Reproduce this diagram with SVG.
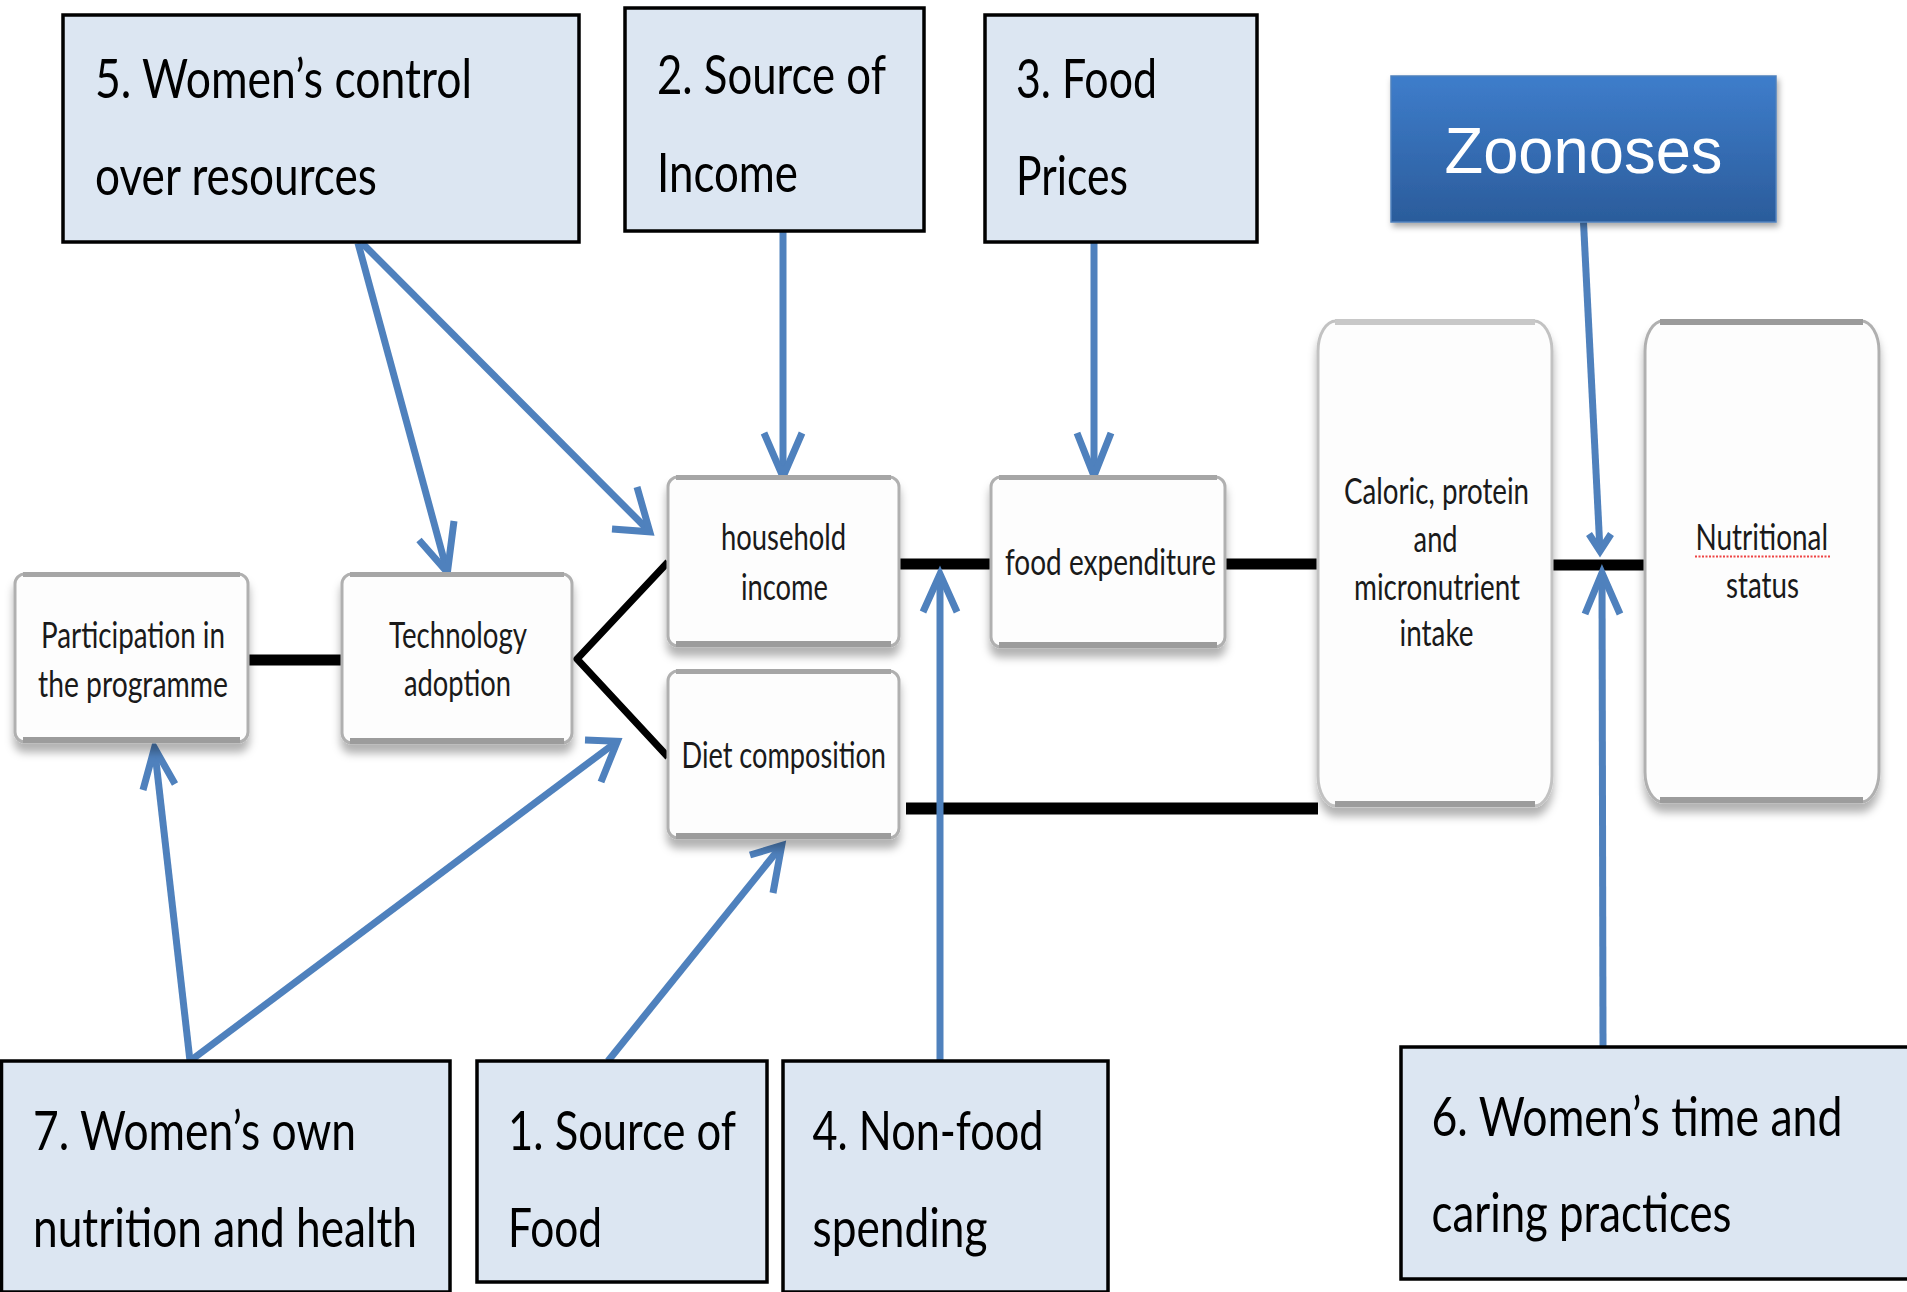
<svg xmlns="http://www.w3.org/2000/svg" width="1907" height="1292" viewBox="0 0 1907 1292">
<defs>
<style>
.lb{fill:#dce6f2;stroke:#000;stroke-width:3.5}
.big{font-family:Lato,"Open Sans","Liberation Sans",sans-serif;font-size:55px;fill:#000}
.sm{font-family:Lato,"Open Sans","Liberation Sans",sans-serif;font-size:37px;fill:#1a1a1a}
.nb{fill:#fdfdfd;stroke:#b0b0b0;stroke-width:3}
.tb{fill:#a6a6a6}
.bb{fill:#9c9c9c}
.blk{stroke:#000;fill:none}
.bl{stroke:#4f81bd;fill:none;stroke-width:7}
.ah{stroke:#4f81bd;fill:none;stroke-width:7;stroke-linejoin:miter;stroke-miterlimit:10}
</style>
<filter id="sh" x="-10%" y="-10%" width="120%" height="130%">
<feGaussianBlur in="SourceAlpha" stdDeviation="4"/>
<feOffset dy="9" result="b"/>
<feFlood flood-color="#000" flood-opacity="0.3"/>
<feComposite in2="b" operator="in"/>
<feMerge><feMergeNode/><feMergeNode in="SourceGraphic"/></feMerge>
</filter>
<filter id="zs" x="-10%" y="-10%" width="120%" height="130%">
<feGaussianBlur in="SourceAlpha" stdDeviation="3"/>
<feOffset dx="2" dy="4" result="b"/>
<feFlood flood-color="#000" flood-opacity="0.35"/>
<feComposite in2="b" operator="in"/>
<feMerge><feMergeNode/><feMergeNode in="SourceGraphic"/></feMerge>
</filter>
<linearGradient id="zg" x1="0" y1="0" x2="0" y2="1">
<stop offset="0" stop-color="#3e7dcb"/>
<stop offset="1" stop-color="#2b5c9b"/>
</linearGradient>
</defs>
<rect x="0" y="0" width="1907" height="1292" fill="#fff"/>

<g id="connectors">
<path class="blk" stroke-width="11" d="M248,660 H342"/>
<path class="blk" stroke-width="7" stroke-linejoin="miter" d="M668,562 L577,659 L668,757"/>
<path class="blk" stroke-width="11" d="M899,564 H991"/>
<path class="blk" stroke-width="11" d="M1225,564 H1318"/>
<path class="blk" stroke-width="11" d="M1552,565 H1645"/>
<path class="blk" stroke-width="12" d="M906,808.5 H1318"/>

<path class="bl" d="M358,243 L447.4,572.3"/>
<path class="ah" d="M419,540 L447.4,572.3 L454,521"/>
<path class="bl" d="M362,243 L649.8,531.8"/>
<path class="ah" d="M612,529 L649.8,531.8 L637,487"/>
<path class="bl" d="M783,231 V477"/>
<path class="ah" d="M764,433 L783,477 L802,433"/>
<path class="bl" d="M1094,243 V476"/>
<path class="ah" d="M1077,433 L1094,476 L1111,433"/>
<path class="bl" stroke-width="5" d="M1583.5,222 L1600,551"/>
<path class="ah" stroke-width="5" d="M1589,534 L1600,551 L1611,534"/>
<path class="bl" d="M1603,1047 L1602,573"/>
<path class="ah" d="M1585,614 L1602,573 L1620,614"/>
<path class="bl" d="M940,1061 V574"/>
<path class="ah" d="M923,612 L940,574 L957,612"/>
<path class="bl" d="M608,1061 L781.7,845.5"/>
<path class="ah" d="M750,855 L781.7,845.5 L773,893"/>
<path class="bl" d="M190,1061 L154.5,747.9"/>
<path class="ah" d="M143,790 L154.5,747.9 L175,784"/>
<path class="bl" d="M190,1061 L617.4,741.2"/>
<path class="ah" d="M585,740 L617.4,741.2 L601,782"/>
</g>

<g id="n-participation">
<rect class="nb" x="15" y="574" width="233" height="168" rx="10" filter="url(#sh)"/>
<rect class="tb" x="23" y="572" width="217" height="5"/>
<rect class="bb" x="23" y="737" width="217" height="6"/>
<text class="sm" x="41" y="648" textLength="184" lengthAdjust="spacingAndGlyphs">Participation in</text>
<text class="sm" x="38" y="697" textLength="190" lengthAdjust="spacingAndGlyphs">the programme</text>
</g>

<g id="n-technology">
<rect class="nb" x="342" y="574" width="230" height="169" rx="10" filter="url(#sh)"/>
<rect class="tb" x="350" y="572" width="214" height="5"/>
<rect class="bb" x="350" y="738" width="214" height="6"/>
<text class="sm" x="389" y="648" textLength="138" lengthAdjust="spacingAndGlyphs">Technology</text>
<text class="sm" x="404" y="696" textLength="107" lengthAdjust="spacingAndGlyphs">adoption</text>
</g>

<g id="n-household">
<rect class="nb" x="668" y="477" width="231" height="169" rx="10" filter="url(#sh)"/>
<rect class="tb" x="676" y="475" width="215" height="5"/>
<rect class="bb" x="676" y="641" width="215" height="6"/>
<text class="sm" x="721" y="550" textLength="125" lengthAdjust="spacingAndGlyphs">household</text>
<text class="sm" x="741" y="600" textLength="87" lengthAdjust="spacingAndGlyphs">income</text>
</g>

<g id="n-diet">
<rect class="nb" x="668" y="671" width="231" height="167" rx="10" filter="url(#sh)"/>
<rect class="tb" x="676" y="669" width="215" height="5"/>
<rect class="bb" x="676" y="833" width="215" height="6"/>
<text class="sm" x="681.5" y="768" textLength="204.5" lengthAdjust="spacingAndGlyphs">Diet composition</text>
</g>

<g id="n-foodexp">
<rect class="nb" x="991" y="477" width="234" height="170" rx="10" filter="url(#sh)"/>
<rect class="tb" x="999" y="475" width="218" height="5"/>
<rect class="bb" x="999" y="642" width="218" height="6"/>
<text class="sm" x="1005" y="575" textLength="211" lengthAdjust="spacingAndGlyphs">food expenditure</text>
</g>

<g id="n-caloric">
<rect class="nb" x="1318" y="321" width="234" height="485" rx="18" ry="30" filter="url(#sh)" style="stroke:#c2c2c2"/>
<rect x="1335" y="319" width="200" height="6" fill="#c8c8c8"/>
<rect class="bb" x="1335" y="801" width="200" height="6"/>
<text class="sm" x="1344" y="504" textLength="185" lengthAdjust="spacingAndGlyphs">Caloric, protein</text>
<text class="sm" x="1413.6" y="552" textLength="44" lengthAdjust="spacingAndGlyphs">and</text>
<text class="sm" x="1354" y="600" textLength="166" lengthAdjust="spacingAndGlyphs">micronutrient</text>
<text class="sm" x="1399.5" y="646" textLength="74" lengthAdjust="spacingAndGlyphs">intake</text>
</g>

<g id="n-nutritional">
<rect class="nb" x="1645" y="321" width="234" height="481" rx="18" ry="30" filter="url(#sh)"/>
<rect x="1660" y="319" width="203" height="6" fill="#9b9b9b"/>
<rect class="bb" x="1660" y="797" width="203" height="6"/>
<text class="sm" x="1695.5" y="550" textLength="132.5" lengthAdjust="spacingAndGlyphs">Nutritional</text>
<path d="M1695,556.5 H1830" stroke="#ee4444" stroke-width="2" stroke-dasharray="2 1.5" fill="none"/>
<text class="sm" x="1726" y="598" textLength="73" lengthAdjust="spacingAndGlyphs">status</text>
</g>

<g id="n-zoonoses">
<rect x="1391" y="76" width="385" height="146" fill="url(#zg)" stroke="#4f81bd" stroke-width="1.5" filter="url(#zs)"/>
<text x="1444.5" y="173" font-family="'Liberation Sans',Arial,sans-serif" font-size="64" fill="#fff" textLength="278" lengthAdjust="spacingAndGlyphs">Zoonoses</text>
</g>

<g id="n-5">
<rect class="lb" x="63" y="15" width="516" height="227"/>
<text class="big" x="95" y="98" textLength="377" lengthAdjust="spacingAndGlyphs">5. Women’s control</text>
<text class="big" x="95" y="195" textLength="282" lengthAdjust="spacingAndGlyphs">over resources</text>
</g>

<g id="n-2">
<rect class="lb" x="625" y="8" width="299" height="223"/>
<text class="big" x="657" y="94" textLength="229" lengthAdjust="spacingAndGlyphs">2. Source of</text>
<text class="big" x="657" y="192" textLength="141" lengthAdjust="spacingAndGlyphs">Income</text>
</g>

<g id="n-3">
<rect class="lb" x="985" y="15" width="272" height="227"/>
<text class="big" x="1016" y="98" textLength="141" lengthAdjust="spacingAndGlyphs">3. Food</text>
<text class="big" x="1016" y="195" textLength="112" lengthAdjust="spacingAndGlyphs">Prices</text>
</g>

<g id="n-7">
<rect class="lb" x="1.5" y="1061" width="448.5" height="231"/>
<text class="big" x="33" y="1150" textLength="323" lengthAdjust="spacingAndGlyphs">7. Women’s own</text>
<text class="big" x="33" y="1247" textLength="384" lengthAdjust="spacingAndGlyphs">nutrition and health</text>
</g>

<g id="n-1">
<rect class="lb" x="477" y="1061" width="290" height="221"/>
<text class="big" x="508" y="1150" textLength="228" lengthAdjust="spacingAndGlyphs">1. Source of</text>
<text class="big" x="508" y="1247" textLength="94" lengthAdjust="spacingAndGlyphs">Food</text>
</g>

<g id="n-4">
<rect class="lb" x="783" y="1061" width="325" height="231"/>
<text class="big" x="812.5" y="1150" textLength="231" lengthAdjust="spacingAndGlyphs">4. Non-food</text>
<text class="big" x="812.5" y="1247" textLength="175" lengthAdjust="spacingAndGlyphs">spending</text>
</g>

<g id="n-6">
<rect x="1401" y="1047" width="506" height="232" fill="#dce6f2"/>
<path d="M1907,1047 H1401 V1279 H1907" fill="none" stroke="#000" stroke-width="3.5"/>
<text class="big" transform="translate(1431.5,1136) scale(0.82,1)" x="0" y="0" textLength="501.2" lengthAdjust="spacingAndGlyphs">6. Women’s time and</text>
<text class="big" x="1431.5" y="1232" textLength="300" lengthAdjust="spacingAndGlyphs">caring practices</text>
</g>
</svg>
